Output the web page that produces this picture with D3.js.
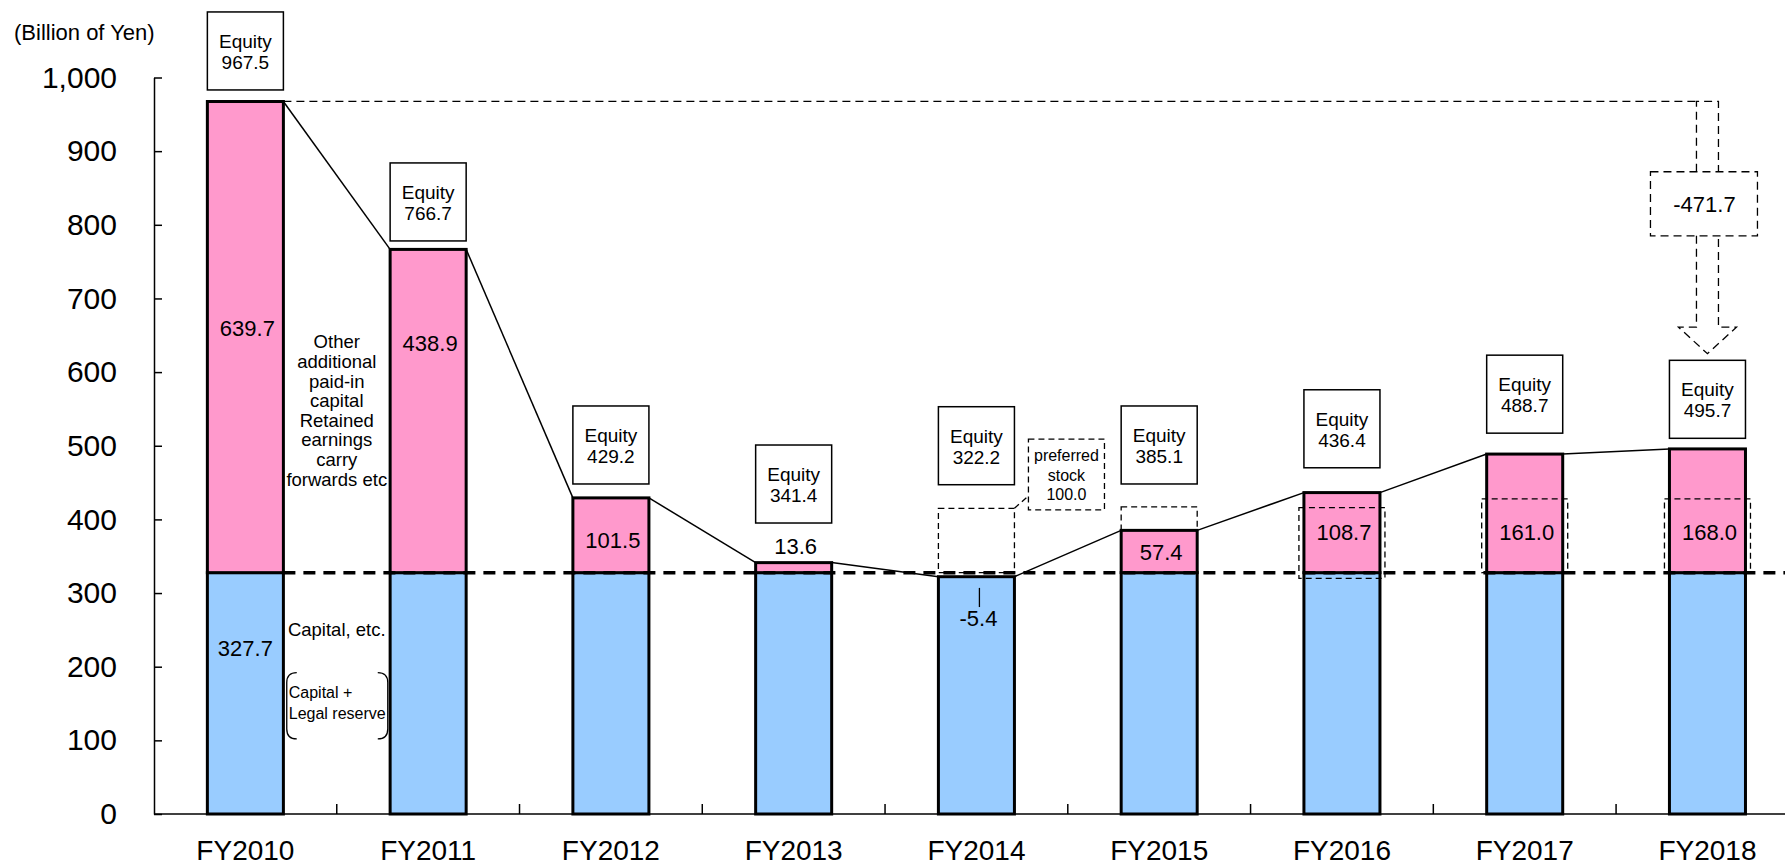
<!DOCTYPE html>
<html>
<head>
<meta charset="utf-8">
<script src="https://cdn.jsdelivr.net/npm/d3@7"></script>
<style>
  body { margin: 0; background: #fff; }
  text { font-family: "Liberation Sans", Arial, sans-serif; fill: #000; }
</style>
</head>
<body>
<script>
// values (billion of yen)
var years = ["FY2010", "FY2011", "FY2012", "FY2013", "FY2014", "FY2015", "FY2016", "FY2017", "FY2018"];
var capital = [327.7, 327.7, 327.7, 327.7, 322.2, 327.7, 327.7, 327.7, 327.7];
var other = [639.7, 438.9, 101.5, 13.6, 0, 57.4, 108.7, 161.0, 168.0];
var equity = [967.5, 766.7, 429.2, 341.4, 322.2, 385.1, 436.4, 488.7, 495.7];
var yTicks = [0, 100, 200, 300, 400, 500, 600, 700, 800, 900, 1000];
var drop2014 = -5.4;
var reduction = -471.7;
var preferred = 100.0;

// where the annotation boxes sit (in yen units)
var equityBoxTop = [1089, 884, 554, 501, 553, 554, 576, 623, 616];
var otherLabelAt = [659, 639, 372, 364, null, 356, 383, 383, 383];
// dashed "preferred stock" outlines [from, to]
var prefYears = ["FY2014", "FY2015", "FY2016", "FY2017", "FY2018"];
var prefFrom = [327.7, 327.7, 320, 327.7, 327.7];
var prefTo = [415, 417, 416, 428, 428];

var W = 1785, H = 867;
var svg = d3.select("body").append("svg").attr("width", W).attr("height", H);
var fmt = function(v) { return d3.format(".1f")(v).replace("\u2212", "-"); };

var x = d3.scaleBand().domain(years).range([154, 154 + 9 * 182.76])
	.paddingInner(0.584).paddingOuter(0.292);
var y = d3.scaleLinear().domain([0, 1000]).range([814, 77.5]);
var bw = x.bandwidth();
var step = x.step();

// y axis
var yAxis = svg.append("g")
	.attr("transform", "translate(154,0)")
	.call(d3.axisLeft(y).tickValues(yTicks).tickFormat(d3.format(","))
		.tickSizeInner(-8).tickSizeOuter(0).tickPadding(37));
yAxis.selectAll("text").style("font-size", "30px").style("font-family", "Liberation Sans, Arial, sans-serif");
yAxis.selectAll("line, path").attr("stroke", "#000").attr("stroke-width", 1.5);

svg.append("text").attr("x", 14).attr("y", 40).style("font-size", "22px").text("(Billion of Yen)");

// x axis
var xAxis = svg.append("g")
	.attr("transform", "translate(0,814)")
	.call(d3.axisBottom(x).tickSize(0).tickPadding(26));
xAxis.select(".domain").attr("d", "M154,0H" + W).attr("stroke", "#000").attr("stroke-width", 1.5);
xAxis.selectAll("text").style("font-size", "28px").style("font-family", "Liberation Sans, Arial, sans-serif");
svg.selectAll("line.sep")
	.data(years.slice(1)).enter().append("line")
	.attr("class", "sep")
	.attr("x1", function(d) { return x(d) - (step - bw) / 2; })
	.attr("x2", function(d) { return x(d) - (step - bw) / 2; })
	.attr("y1", y(0)).attr("y2", y(0) - 10)
	.attr("stroke", "#000").attr("stroke-width", 1.5);

// bars: capital (blue) and other (pink)
var rows = years.map(function(d, i) { return {year: d, cap: capital[i], oth: other[i], eq: equity[i], i: i}; });

svg.selectAll("rect.cap")
	.data(rows).enter().append("rect")
	.attr("class", "cap")
	.attr("x", function(d) { return x(d.year); })
	.attr("width", bw)
	.attr("y", function(d) { return y(d.cap); })
	.attr("height", function(d) { return y(0) - y(d.cap); })
	.attr("fill", "#99CCFF").attr("stroke", "#000").attr("stroke-width", 3);

svg.selectAll("rect.oth")
	.data(rows.filter(function(d) { return d.oth > 0; })).enter().append("rect")
	.attr("class", "oth")
	.attr("x", function(d) { return x(d.year); })
	.attr("width", bw)
	.attr("y", function(d) { return y(d.cap + d.oth); })
	.attr("height", function(d) { return y(d.cap) - y(d.cap + d.oth); })
	.attr("fill", "#FF99CC").attr("stroke", "#000").attr("stroke-width", 3);

// lines joining the tops of the bars
svg.selectAll("line.join")
	.data(rows.slice(0, -1)).enter().append("line")
	.attr("class", "join")
	.attr("x1", function(d) { return x(d.year) + bw; })
	.attr("y1", function(d) { return y(d.eq); })
	.attr("x2", function(d) { return x(years[d.i + 1]); })
	.attr("y2", function(d) { return y(equity[d.i + 1]); })
	.attr("stroke", "#000").attr("stroke-width", 1.5);

// dashed preferred stock outlines
svg.selectAll("rect.pref")
	.data(prefYears).enter().append("rect")
	.attr("class", "pref")
	.attr("x", function(d, i) { return x(d) - (i >= 2 ? 5 : 0); })
	.attr("width", function(d, i) { return bw + (i >= 2 ? 10 : 0); })
	.attr("y", function(d, i) { return y(prefTo[i]); })
	.attr("height", function(d, i) { return y(prefFrom[i]) - y(prefTo[i]); })
	.attr("fill", "none").attr("stroke", "#000").attr("stroke-width", 1.3)
	.attr("stroke-dasharray", "6,4");

// the capital level line
svg.append("line")
	.attr("x1", x(years[0]) + bw).attr("x2", W)
	.attr("y1", y(capital[0])).attr("y2", y(capital[0]))
	.attr("stroke", "#000").attr("stroke-width", 3.5).attr("stroke-dasharray", "12,8");

// equity boxes
var boxH = 78;
var eb = svg.selectAll("g.eqbox")
	.data(rows).enter().append("g")
	.attr("class", "eqbox")
	.attr("transform", function(d) { return "translate(" + x(d.year) + "," + y(equityBoxTop[d.i]) + ")"; });
eb.append("rect").attr("width", bw).attr("height", boxH)
	.attr("fill", "#fff").attr("stroke", "#000").attr("stroke-width", 1.5);
eb.append("text").attr("x", bw / 2).attr("y", boxH / 2 - 3)
	.attr("text-anchor", "middle").style("font-size", "19px").text("Equity");
eb.append("text").attr("x", bw / 2).attr("y", boxH / 2 + 18)
	.attr("text-anchor", "middle").style("font-size", "19px")
	.text(function(d) { return fmt(d.eq); });

// value labels of the pink part
svg.selectAll("text.oth")
	.data(rows.filter(function(d) { return otherLabelAt[d.i] != null; })).enter().append("text")
	.attr("class", "oth")
	.attr("x", function(d) { return x(d.year) + bw / 2 + 2; })
	.attr("y", function(d) { return y(otherLabelAt[d.i]); })
	.attr("dy", "0.35em")
	.attr("text-anchor", "middle").style("font-size", "22px")
	.text(function(d) { return fmt(d.oth); });

// capital label and the FY2014 drop
svg.append("text")
	.attr("x", x("FY2010") + bw / 2).attr("y", y(225)).attr("dy", "0.35em")
	.attr("text-anchor", "middle").style("font-size", "22px").text(fmt(capital[0]));
svg.append("line")
	.attr("x1", x("FY2014") + bw / 2 + 3).attr("x2", x("FY2014") + bw / 2 + 3)
	.attr("y1", y(307)).attr("y2", y(281))
	.attr("stroke", "#000").attr("stroke-width", 1.3);
svg.append("text")
	.attr("x", x("FY2014") + bw / 2 + 2).attr("y", y(266)).attr("dy", "0.35em")
	.attr("text-anchor", "middle").style("font-size", "22px")
	.text(fmt(drop2014));

// preferred stock note
var pX = x("FY2014") + bw + 14;
svg.append("rect")
	.attr("x", pX).attr("width", bw)
	.attr("y", y(509)).attr("height", y(413) - y(509))
	.attr("fill", "#fff").attr("stroke", "#000").attr("stroke-width", 1.3).attr("stroke-dasharray", "6,4");
svg.append("line")
	.attr("x1", x("FY2014") + bw).attr("y1", y(prefTo[0]))
	.attr("x2", pX).attr("y2", y(432))
	.attr("stroke", "#000").attr("stroke-width", 1.3).attr("stroke-dasharray", "6,4");
["preferred", "stock", fmt(preferred)].forEach(function(t, k) {
	svg.append("text").attr("x", pX + bw / 2).attr("y", y(509) + 22 + k * 19.5)
		.attr("text-anchor", "middle").style("font-size", "16px").text(t);
});

// notes between FY2010 and FY2011
var mid = x("FY2011") - (step - bw) / 2;
var otherLines = ["Other", "additional", "paid-in", "capital", "Retained", "earnings", "carry", "forwards etc"];
otherLines.forEach(function(t, k) {
	svg.append("text").attr("x", mid).attr("y", y(641) + k * 19.6).attr("dy", "0.35em")
		.attr("text-anchor", "middle").style("font-size", "18.5px").text(t);
});
svg.append("text").attr("x", mid).attr("y", y(250)).attr("dy", "0.35em")
	.attr("text-anchor", "middle").style("font-size", "18.5px").text("Capital, etc.");
var bTop = y(192), bBot = y(102);
svg.append("path")
	.attr("d", "M" + (mid - 40) + "," + bTop + "Q" + (mid - 50) + "," + bTop + " " + (mid - 50) + "," + (bTop + 10) +
		"V" + (bBot - 10) + "Q" + (mid - 50) + "," + bBot + " " + (mid - 40) + "," + bBot)
	.attr("fill", "none").attr("stroke", "#000").attr("stroke-width", 1.3);
svg.append("path")
	.attr("d", "M" + (mid + 41) + "," + bTop + "Q" + (mid + 51) + "," + bTop + " " + (mid + 51) + "," + (bTop + 10) +
		"V" + (bBot - 10) + "Q" + (mid + 51) + "," + bBot + " " + (mid + 41) + "," + bBot)
	.attr("fill", "none").attr("stroke", "#000").attr("stroke-width", 1.3);
svg.append("text").attr("x", mid - 48).attr("y", y(157)).style("font-size", "16px").text("Capital +");
svg.append("text").attr("x", mid - 48).attr("y", y(129)).style("font-size", "16px").text("Legal reserve");

// reduction arrow from FY2010 equity down to FY2018
var ax = x("FY2018") + bw / 2;
function dashed(sel) {
	return sel.attr("fill", "none").attr("stroke", "#000").attr("stroke-width", 1.3).attr("stroke-dasharray", "8,5");
}
dashed(svg.append("line")
	.attr("x1", x("FY2010") + bw).attr("x2", ax - 11)
	.attr("y1", y(equity[0])).attr("y2", y(equity[0])));
dashed(svg.append("path")
	.attr("d", "M" + (ax - 11) + "," + y(872) + "V" + y(equity[0]) + "H" + (ax + 11) + "V" + y(872)));
dashed(svg.append("rect")
	.attr("x", ax - 57).attr("width", 107)
	.attr("y", y(872)).attr("height", y(785) - y(872)));
dashed(svg.append("path")
	.attr("d", "M" + (ax - 11) + "," + y(785) + "V" + y(661) + "H" + (ax - 29) + "L" + ax + "," + y(625) +
		"L" + (ax + 29) + "," + y(661) + "H" + (ax + 11) + "V" + y(785)));
svg.append("text").attr("x", ax - 3).attr("y", (y(872) + y(785)) / 2).attr("dy", "0.35em")
	.attr("text-anchor", "middle").style("font-size", "22px").text(fmt(reduction));
</script>
</body>
</html>
